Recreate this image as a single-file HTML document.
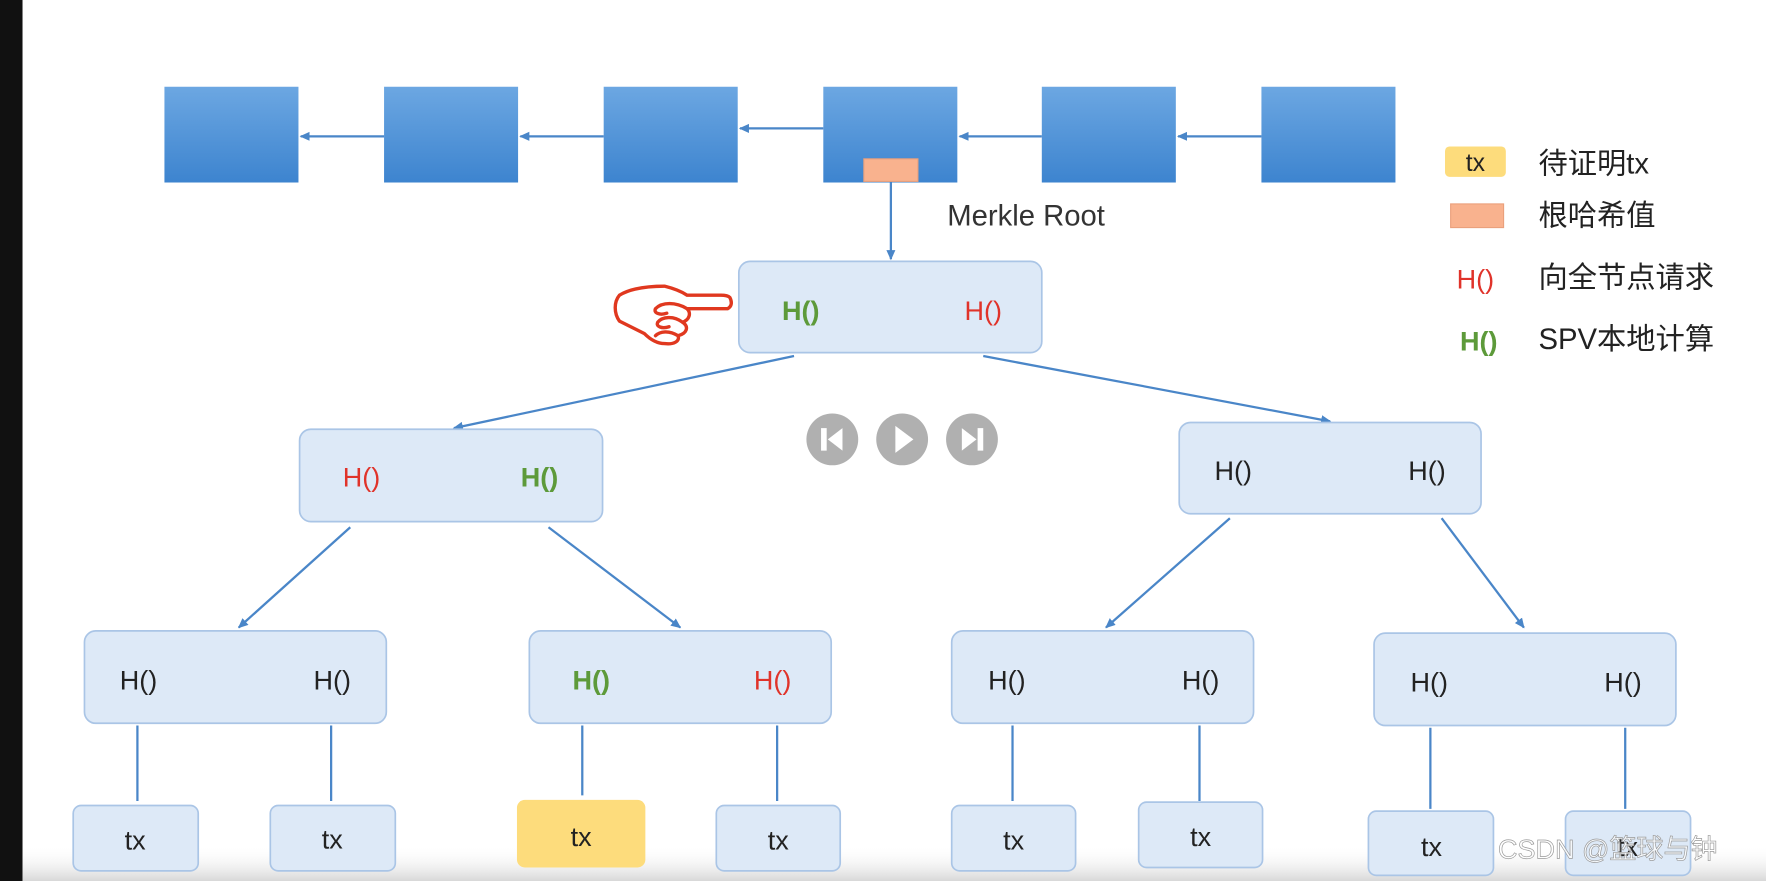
<!DOCTYPE html>
<html><head><meta charset="utf-8"><style>
html,body{margin:0;padding:0;background:#fff;overflow:hidden}
svg{display:block}
text{font-family:"Liberation Sans","Noto Sans CJK SC",sans-serif}
</style></head><body>
<svg width="1766" height="881" viewBox="0 0 1568 782" preserveAspectRatio="none" xmlns="http://www.w3.org/2000/svg">
<defs>
<linearGradient id="bl" x1="0" y1="0" x2="0" y2="1"><stop offset="0" stop-color="#6ca7e2"/><stop offset="1" stop-color="#3d84cf"/></linearGradient>
<linearGradient id="bot" x1="0" y1="0" x2="0" y2="1"><stop offset="0" stop-color="#fff" stop-opacity="0"/><stop offset="1" stop-color="#d8d8d8"/></linearGradient>
<marker id="ar" markerWidth="10" markerHeight="10" refX="8" refY="5" orient="auto" markerUnits="userSpaceOnUse"><path d="M0,1 L9,5 L0,9 z" fill="#4a86c8"/></marker>
</defs>
<rect width="1568" height="782" fill="#fff"/>
<rect x="0" y="0" width="20" height="782" fill="#111"/>
<rect x="20" y="750" width="1548" height="32" fill="url(#bot)"/>
<g fill="url(#bl)">
<rect x="146" y="77" width="119" height="85"/><rect x="341" y="77" width="119" height="85"/><rect x="536" y="77" width="119" height="85"/><rect x="731" y="77" width="119" height="85"/><rect x="925" y="77" width="119" height="85"/><rect x="1120" y="77" width="119" height="85"/>
</g>
<g stroke="#4a86c8" stroke-width="2" fill="none" marker-end="url(#ar)">
<line x1="341" y1="121" x2="267" y2="121"/><line x1="536" y1="121" x2="462" y2="121"/><line x1="731" y1="114" x2="657" y2="114"/><line x1="925" y1="121" x2="852" y2="121"/><line x1="1120" y1="121" x2="1046" y2="121"/>
<line x1="791" y1="162" x2="791" y2="230"/>
<line x1="705" y1="316" x2="403" y2="380"/><line x1="873" y1="316" x2="1181" y2="374"/>
<line x1="311" y1="468" x2="212" y2="557"/><line x1="487" y1="468" x2="604" y2="557"/>
<line x1="1092" y1="460" x2="982" y2="557"/><line x1="1280" y1="460" x2="1353" y2="557"/>
</g>
<rect x="767" y="141" width="48" height="20" fill="#f9b28e" stroke="#eaa07c"/>
<text x="841" y="200" font-size="26" fill="#333">Merkle Root</text>
<g stroke="#4a86c8" stroke-width="2">
<line x1="122" y1="644" x2="122" y2="711"/><line x1="294" y1="644" x2="294" y2="711"/><line x1="517" y1="644" x2="517" y2="706"/><line x1="690" y1="644" x2="690" y2="711"/><line x1="899" y1="644" x2="899" y2="711"/><line x1="1065" y1="644" x2="1065" y2="711"/><line x1="1270" y1="646" x2="1270" y2="718"/><line x1="1443" y1="646" x2="1443" y2="718"/>
</g>
<g fill="#dde9f7" stroke="#aac5e6" stroke-width="1.5">
<rect x="656" y="232" width="269" height="81" rx="10"/>
<rect x="266" y="381" width="269" height="82" rx="10"/>
<rect x="1047" y="375" width="268" height="81" rx="10"/>
<rect x="75" y="560" width="268" height="82" rx="10"/>
<rect x="470" y="560" width="268" height="82" rx="10"/>
<rect x="845" y="560" width="268" height="82" rx="10"/>
<rect x="1220" y="562" width="268" height="82" rx="10"/>
<rect x="65" y="715" width="111" height="58" rx="7"/>
<rect x="240" y="715" width="111" height="58" rx="7"/>
<rect x="636" y="715" width="110" height="58" rx="7"/>
<rect x="845" y="715" width="110" height="58" rx="7"/>
<rect x="1011" y="712" width="110" height="58" rx="7"/>
<rect x="1215" y="720" width="111" height="57" rx="7"/>
<rect x="1390" y="720" width="111" height="57" rx="7"/>
</g>
<rect x="459" y="710" width="114" height="60" rx="7" fill="#fddc7c"/>
<g font-size="24" text-anchor="middle">
<text x="711" y="284" fill="#5d9a3a" font-weight="bold">H()</text>
<text x="873" y="284" fill="#e0332a">H()</text>
<text x="321" y="432" fill="#e0332a">H()</text>
<text x="479" y="432" fill="#5d9a3a" font-weight="bold">H()</text>
<text x="1095" y="426" fill="#222">H()</text><text x="1267" y="426" fill="#222">H()</text>
<text x="123" y="612" fill="#222">H()</text><text x="295" y="612" fill="#222">H()</text>
<text x="525" y="612" fill="#5d9a3a" font-weight="bold">H()</text><text x="686" y="612" fill="#e0332a">H()</text>
<text x="894" y="612" fill="#222">H()</text><text x="1066" y="612" fill="#222">H()</text>
<text x="1269" y="614" fill="#222">H()</text><text x="1441" y="614" fill="#222">H()</text>
<g fill="#222">
<text x="120" y="754">tx</text><text x="295" y="753">tx</text><text x="516" y="751">tx</text><text x="691" y="754">tx</text><text x="900" y="754">tx</text><text x="1066" y="751">tx</text><text x="1271" y="760">tx</text><text x="1445" y="760">tx</text>
</g>
</g>
<g fill="#b0b0b0"><circle cx="739" cy="390" r="23"/><circle cx="801" cy="390" r="23"/><circle cx="863" cy="390" r="23"/></g>
<g fill="#fff">
<rect x="729" y="380" width="5" height="20"/><path d="M748,380 L735,390 L748,400z"/>
<path d="M795,378 L811,390 L795,402z"/>
<rect x="868" y="380" width="5" height="20"/><path d="M854,380 L867,390 L854,400z"/>
</g>
<g fill="none" stroke="#e0381f" stroke-width="3" stroke-linejoin="round" stroke-linecap="round">
<path d="M648,264 C650,268 650,272 646,274 L610,274 C614,278 612,284 606,286 C612,290 610,296 602,298 C604,303 598,306 590,305 C582,305 576,300 572,296 C564,292 556,288 550,285 C545,278 545,268 550,262 C560,256 575,254 590,254 C598,256 604,258 610,262 L640,262 C645,262 647,263 648,264z"/>
<path d="M610,274 C600,268 588,268 582,274 C580,278 586,280 592,278 M606,286 C598,280 588,281 584,286 C582,290 588,292 594,290 M602,298 C594,293 586,294 582,298"/>
</g>
<rect x="1283" y="130" width="54" height="27" rx="4" fill="#fddc7c"/>
<text x="1310" y="152" font-size="22" text-anchor="middle" fill="#222">tx</text>
<rect x="1288" y="181" width="47" height="21" fill="#f9b28e" stroke="#eaa07c"/>
<g font-size="26" fill="#222">
<text x="1366" y="154">待证明tx</text>
<text x="1366" y="200">根哈希值</text>
<text x="1366" y="255">向全节点请求</text>
<text x="1366" y="310">SPV本地计算</text>
</g>
<text x="1310" y="256" font-size="24" text-anchor="middle" fill="#e0332a">H()</text>
<text x="1313" y="311" font-size="24" text-anchor="middle" fill="#5d9a3a" font-weight="bold">H()</text>
<text x="1330" y="762" font-size="24" fill="#fff" fill-opacity="0.75" stroke="#999" stroke-width="0.6">CSDN @篮球与钟</text>
</svg>
</body></html>
